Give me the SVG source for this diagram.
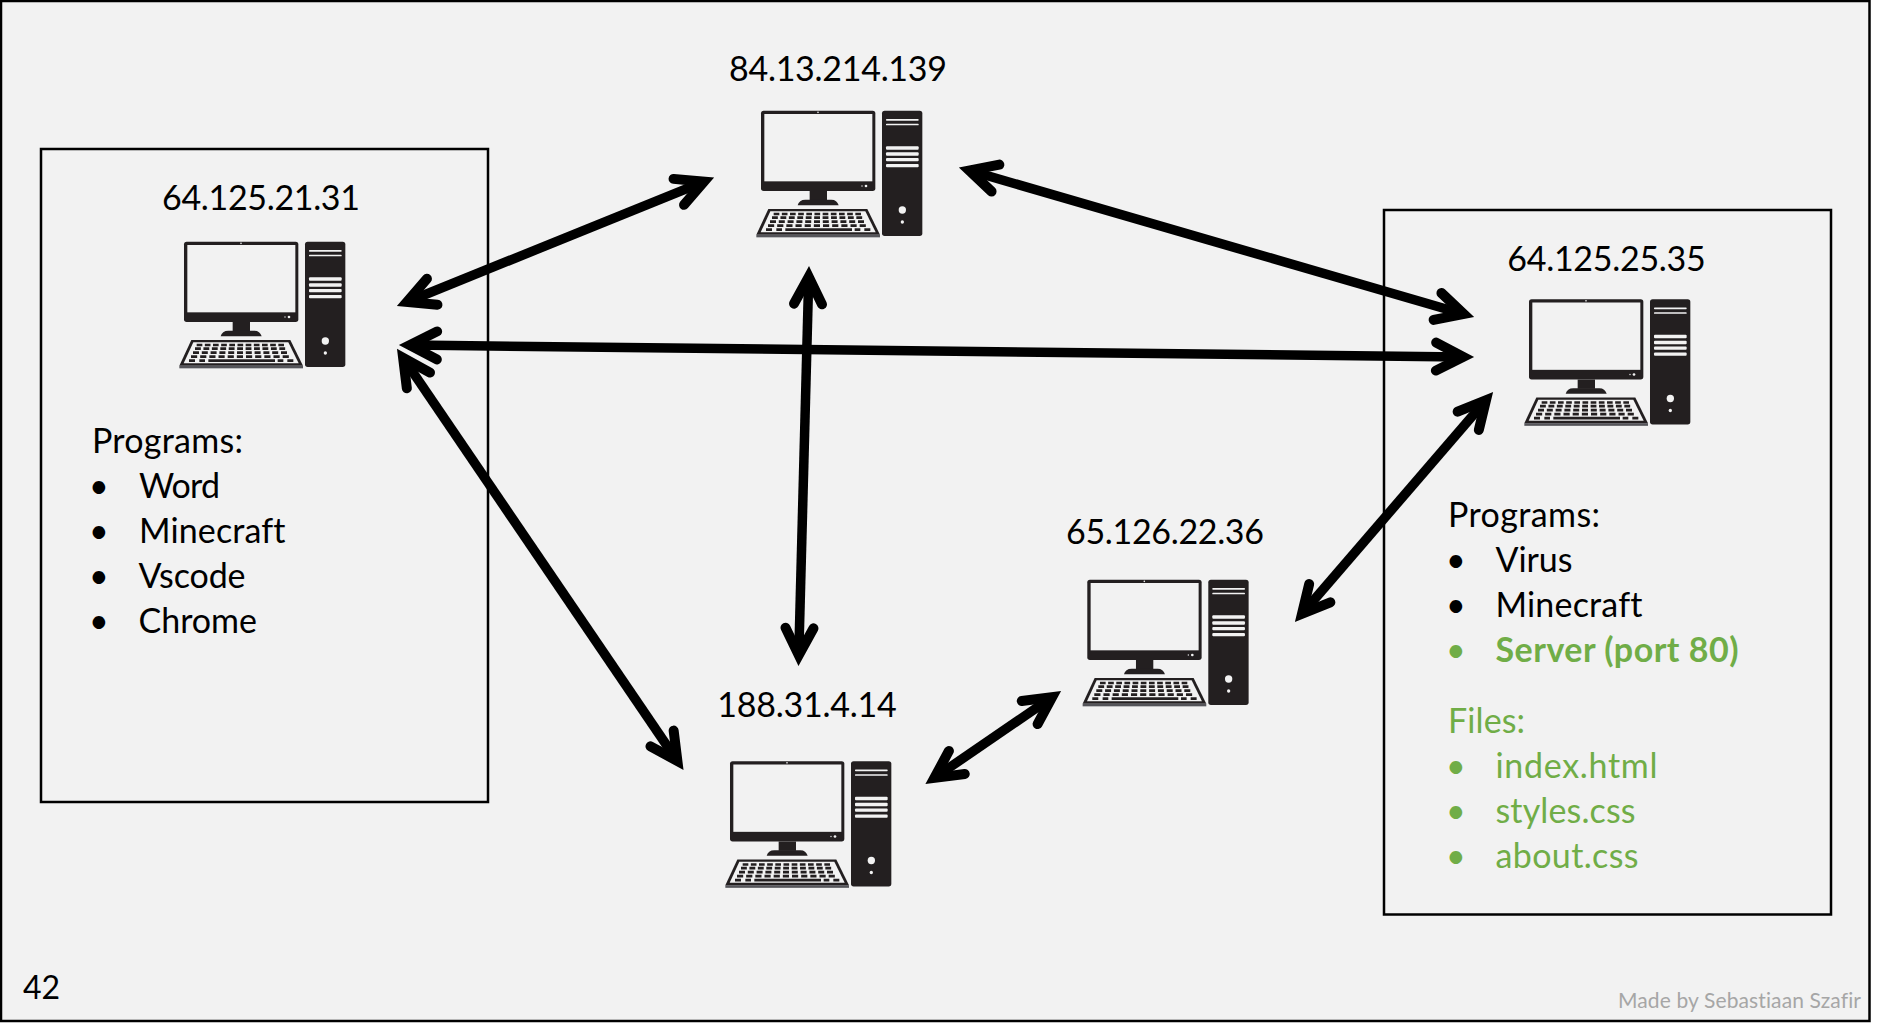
<svg xmlns="http://www.w3.org/2000/svg" width="1877" height="1032" viewBox="0 0 1877 1032">
<style>
text{font-family:Lato,"Liberation Sans",sans-serif;font-size:34px;fill:#000;font-variant-ligatures:none}
.c{text-anchor:middle}
.g{fill:#70ad47}
.b{font-weight:700}
.box{fill:none;stroke:#000;stroke-width:2.5}
.arrow{stroke:#000;stroke-width:9.5;fill:none;marker-start:url(#head);marker-end:url(#head)}
.d{fill:#231f20}
.l{fill:#f2f2f2}
.k{stroke:#231f20;stroke-width:8;fill:none}
</style>
<defs>
<marker id="head" markerUnits="userSpaceOnUse" markerWidth="60" markerHeight="60" viewBox="-50 -30 60 60" refX="-12" refY="0" orient="auto-start-reverse">
<path d="M-38,-14 L-10.8,0 L-38,14" fill="none" stroke="#000" stroke-width="10" stroke-linecap="round" stroke-linejoin="miter" stroke-miterlimit="10"/>
</marker>
<g id="pc">
<rect class="d" x="72" y="65" width="343" height="241" rx="8"/>
<rect class="l" x="82" y="75" width="324" height="202"/>
<circle class="l" cx="243" cy="70" r="2.5"/>
<circle class="l" cx="387" cy="291" r="4"/>
<circle class="l" cx="375" cy="291" r="2"/>
<rect class="d" x="218" y="306" width="52" height="28"/>
<path class="d" d="M182,349Q186,332 205,332H283Q300,332 305,349Z"/>
<rect class="d" x="435" y="65" width="121" height="376" rx="8"/>
<rect class="l" x="447" y="90" width="98" height="5" rx="2"/>
<rect class="l" x="447" y="104" width="98" height="5" rx="2"/>
<rect class="l" x="447" y="172" width="98" height="10" rx="3"/>
<rect class="l" x="447" y="190" width="98" height="10" rx="3"/>
<rect class="l" x="447" y="207" width="98" height="10" rx="3"/>
<rect class="l" x="447" y="225" width="98" height="10" rx="3"/>
<circle class="l" cx="496" cy="363" r="11"/>
<circle class="l" cx="496" cy="399" r="5"/>
<path class="d" d="M94,360H391L429,437H58Z"/>
<path class="l" d="M100,367H385L416,430H71Z"/>
<rect x="58" y="437" width="371" height="8" fill="#55555a"/>
<line class="k" x1="110" y1="375" x2="378" y2="375" stroke-dasharray="17 7.5"/>
<line class="k" x1="105" y1="386" x2="383" y2="386" stroke-dasharray="17.5 7.8"/>
<line class="k" x1="99" y1="398" x2="389" y2="398" stroke-dasharray="18 8.4"/>
<line class="k" x1="93" y1="410" x2="395" y2="410" stroke-dasharray="18.5 9"/>
<path class="k" d="M87,422H105M118,422H135M145,422H345M353,422H370M382,422H400"/>
</g>
</defs>
<rect x="0" y="0" width="1877" height="1032" fill="#fff"/>
<rect x="1" y="1" width="1868.5" height="1020" fill="#f2f2f2" stroke="#000" stroke-width="2.5"/>
<g id="box-left"><rect class="box" x="41" y="149" width="447" height="653"/></g>
<g id="box-right"><rect class="box" x="1384" y="210" width="447" height="704.5"/></g>
<g id="connectors">
<line class="arrow" x1="408.1" y1="301.5" x2="702.9" y2="182.1"/>
<line class="arrow" x1="970.5" y1="170.8" x2="1462.5" y2="313.7"/>
<line class="arrow" x1="411" y1="345.1" x2="1462" y2="356.9"/>
<line class="arrow" x1="403.8" y1="358.9" x2="676.7" y2="760"/>
<line class="arrow" x1="808.7" y1="278" x2="798.8" y2="654"/>
<line class="arrow" x1="1485.2" y1="401.1" x2="1302.8" y2="612.9"/>
<line class="arrow" x1="1051.1" y1="697.8" x2="935.4" y2="777.2"/>
</g>
<g id="node-64-125-21-31">
<text class="c" x="261" y="210" textLength="198">64.125.21.31</text>
<use href="#pc" transform="translate(160,220) scale(.33333)"/>
<text x="92" y="453" textLength="151">Programs:</text>
<text x="89" y="498">•</text><text x="139" y="498" textLength="81">Word</text>
<text x="89" y="543">•</text><text x="139" y="543" textLength="146.5">Minecraft</text>
<text x="89" y="588">•</text><text x="138.5" y="588" textLength="107">Vscode</text>
<text x="89" y="633">•</text><text x="138.5" y="633" textLength="118.5">Chrome</text>
</g>
<g id="node-84-13-214-139">
<text class="c" x="838" y="80.5" textLength="218">84.13.214.139</text>
<use href="#pc" transform="translate(737,89) scale(.33333)"/>
</g>
<g id="node-64-125-25-35">
<text class="c" x="1606.5" y="270.5" textLength="198.5">64.125.25.35</text>
<use href="#pc" transform="translate(1505,277.5) scale(.33333)"/>
<text x="1448" y="527" textLength="152">Programs:</text>
<text x="1446" y="572">•</text><text x="1495.5" y="572" textLength="77">Virus</text>
<text x="1446" y="617">•</text><text x="1495.5" y="617" textLength="147">Minecraft</text>
<text x="1446" y="662" class="g">•</text><text x="1495.5" y="662" class="g b" textLength="243">Server (port 80)</text>
<text x="1448" y="733" class="g" textLength="77">Files:</text>
<text x="1446" y="778" class="g">•</text><text x="1495.5" y="778" class="g" textLength="162">index.html</text>
<text x="1446" y="823" class="g">•</text><text x="1495.5" y="823" class="g" textLength="140">styles.css</text>
<text x="1446" y="868" class="g">•</text><text x="1495.5" y="868" class="g" textLength="143">about.css</text>
</g>
<g id="node-65-126-22-36">
<text class="c" x="1165" y="544" textLength="198">65.126.22.36</text>
<use href="#pc" transform="translate(1063.3,558) scale(.33333)"/>
</g>
<g id="node-188-31-4-14">
<text class="c" x="807" y="716.5" textLength="179.5">188.31.4.14</text>
<use href="#pc" transform="translate(706,739.5) scale(.33333)"/>
</g>
<text x="23" y="998.5" style="font-size:32px">42</text>
<text x="1861" y="1008" text-anchor="end" textLength="243" style="font-size:21px;fill:#a6a6a6">Made by Sebastiaan Szafir</text>
</svg>
